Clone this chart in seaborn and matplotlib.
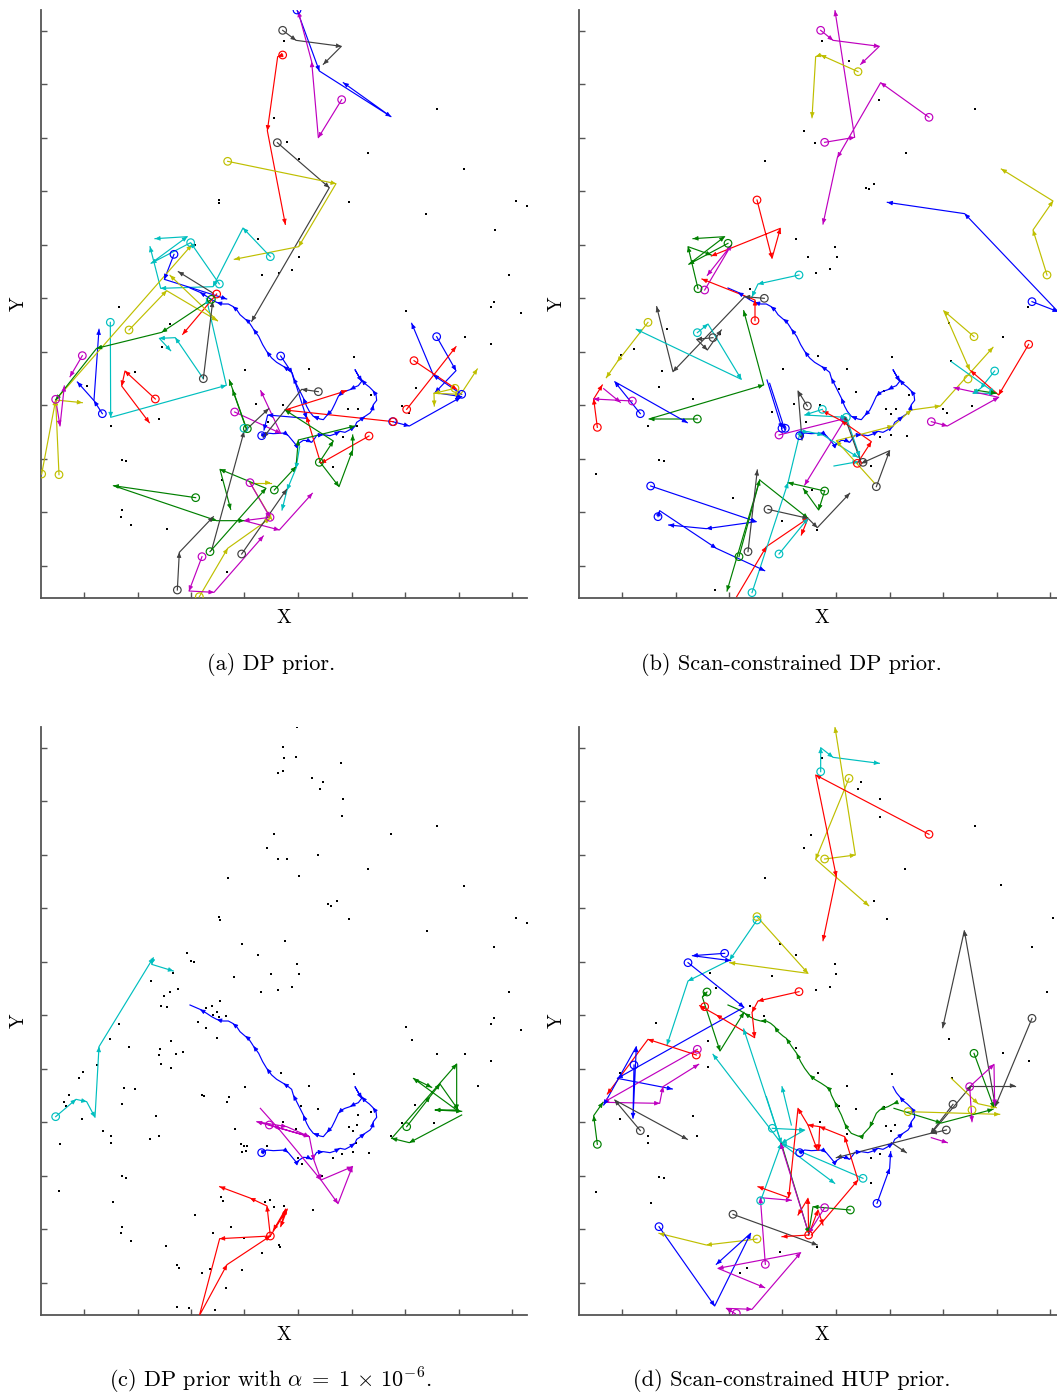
import numpy as np
import pandas as pd
import matplotlib
matplotlib.use("Agg")
import matplotlib.pyplot as plt
import seaborn as sns

# ---------------------------------------------------------------------------
# Colour keys used by the tracker output
COLORS = {
    "b": "#0000ff", "g": "#008000", "r": "#ff0000", "c": "#00bfbf",
    "m": "#bf00bf", "y": "#bfbf00", "k": "#404040",
}

# Surveillance region (local grid units, y grows southwards)
X_RANGE = (2, 1461)
Y_RANGE = (1793, 30)
X_TICKS = [133, 293, 453, 613, 774, 935, 1095, 1256, 1416]
Y_TICKS = [93, 253, 414, 574, 735, 895, 1055, 1216, 1376, 1537, 1697]

# Ground-truth target trajectory (shared by all four runs)
TRUTH_X = [665, 680, 700, 735, 745, 755, 770, 778, 790, 805, 815, 825, 830, 850, 870, 885, 900, 915,
           930, 945, 950, 965, 975, 990, 997, 1000, 1010, 1008, 998, 988, 975, 965, 955, 945,
           965, 955, 945, 930, 915, 905, 895, 885, 875, 860, 850, 840, 820, 808, 800, 790, 780,
           770, 760, 755, 745, 730, 710, 695, 680, 668, 656, 640, 635, 625, 615, 600, 590, 578,
           565, 548, 530, 515, 500, 480, 450]
TRUTH_Y = [1307, 1299, 1301, 1299, 1307, 1319, 1337, 1329, 1321, 1322, 1327, 1314, 1306, 1304, 1307,
           1302, 1294, 1297, 1289, 1279, 1267, 1257, 1249, 1239, 1229, 1214, 1201, 1184, 1171, 1161,
           1151, 1139, 1127, 1109,
           1144, 1157, 1161, 1169, 1174, 1179, 1189, 1211, 1231, 1247, 1259, 1257, 1249, 1234, 1219,
           1194, 1174, 1154, 1134, 1117, 1109, 1099, 1087, 1074, 1054, 1034, 1009, 987, 979, 964,
           957, 944, 929, 919, 912, 912, 907, 899, 889, 877, 864]
SPIKE = 34

# ---------------------------------------------------------------------------
# (a) DP prior
A_TRACKS = [
    ("b", [771, 838, 1053, 910], [30, 213, 350, 248]),
    ("k", [728, 768, 904, 850], [91, 121, 139, 193]),
    ("k", [712, 868, 635], [428, 563, 964]),
    ("m", [905, 835, 815, 775], [299, 413, 185, 35]),
    ("r", [728, 713, 682, 736], [165, 170, 392, 673]),
    ("y", [563, 888, 776, 583], [484, 551, 740, 778]),
    ("c", [691, 609, 519, 362, 330], [770, 684, 860, 865, 740]),
    ("c", [538, 452, 333, 442, 345], [852, 728, 790, 710, 716]),
    ("c", [490, 406, 358, 392], [1136, 1013, 1015, 1052]),
    ("c", [211, 212, 559, 499], [967, 1252, 1156, 895]),
    ("c", [779, 768, 741, 726], [1340, 1405, 1470, 1530]),
    ("b", [722, 757, 800, 683, 672], [1068, 1120, 1255, 1245, 1290]),
    ("b", [402, 373, 560], [763, 838, 897]),
    ("b", [1058, 1108, 1262], [1265, 1278, 1192]),
    ("b", [1190, 1248, 1185, 1265], [1010, 1112, 1178, 1190]),
    ("b", [1265, 1180, 1115], [1183, 1125, 970]),
    ("b", [187, 162, 112], [1241, 1202, 1146]),
    ("b", [162, 177], [1200, 988]),
    ("r", [346, 255, 245, 328], [1197, 1113, 1158, 1268]),
    ("r", [530, 428], [882, 1003]),
    ("r", [1100, 1248], [1228, 1040]),
    ("r", [1122, 1250], [1082, 1168]),
    ("r", [1060, 735, 920], [1265, 1230, 1172]),
    ("r", [987, 842, 800], [1308, 1390, 1250]),
    ("y", [5, 47, 455], [1422, 1200, 735]),
    ("y", [57, 47, 127], [1424, 1200, 1208]),
    ("y", [267, 380, 532], [990, 872, 962]),
    ("y", [532, 390], [962, 826]),
    ("y", [1245, 1182, 1183], [1165, 1180, 1218]),
    ("y", [1182, 1262, 1312], [1180, 1183, 1107]),
    ("y", [630, 692], [1448, 1448]),
    ("y", [630, 695], [1448, 1558]),
    ("y", [478, 563, 690], [1790, 1645, 1555]),
    ("m", [127, 90], [1067, 1130]),
    ("m", [47, 60, 73], [1198, 1278, 1158]),
    ("m", [584, 722, 662], [1236, 1300, 1172]),
    ("m", [630, 690, 612, 718, 817], [1448, 1552, 1562, 1590, 1480]),
    ("m", [486, 447, 522, 670], [1670, 1773, 1777, 1608]),
    ("g", [514, 365, 170, 47], [898, 997, 1045, 1200]),
    ("g", [620, 568], [1287, 1140]),
    ("g", [620, 578], [1290, 1170]),
    ("g", [838, 880, 735], [1387, 1323, 1230]),
    ("g", [843, 897, 938, 938], [1390, 1460, 1350, 1305]),
    ("g", [703, 768, 775, 945], [1470, 1400, 1320, 1278]),
    ("g", [467, 220, 530, 612], [1493, 1457, 1562, 1562]),
    ("g", [510, 678, 540, 572], [1655, 1465, 1408, 1528]),
    ("k", [490, 518], [1136, 905]),
    ("k", [520, 415], [880, 815]),
    ("k", [835, 785, 670], [1175, 1168, 1312]),
    ("k", [515, 612, 686], [1650, 1295, 1226]),
    ("k", [412, 418, 520], [1770, 1657, 1550]),
    ("k", [605, 740], [1662, 1468]),
]
A_RINGS = [
    ("b", 771, 30), ("b", 402, 763), ("b", 722, 1068), ("b", 1058, 1265), ("b", 1190, 1010),
    ("b", 1265, 1183), ("b", 187, 1241),
    ("k", 728, 91), ("k", 712, 428), ("k", 490, 1136), ("k", 835, 1175), ("k", 412, 1770),
    ("k", 605, 1662),
    ("m", 905, 299), ("m", 127, 1067), ("m", 47, 1198), ("m", 584, 1236), ("m", 630, 1448),
    ("m", 690, 1552), ("m", 486, 1670),
    ("r", 728, 165), ("r", 346, 1197), ("r", 530, 882), ("r", 1100, 1228), ("r", 1122, 1082),
    ("r", 1060, 1265), ("r", 987, 1308),
    ("y", 563, 484), ("y", 5, 1422), ("y", 57, 1424), ("y", 267, 990), ("y", 1245, 1165),
    ("y", 478, 1790),
    ("c", 691, 770), ("c", 538, 852), ("c", 452, 728), ("c", 211, 967), ("c", 612, 1285),
    ("g", 838, 1387), ("g", 703, 1470), ("g", 467, 1493), ("g", 510, 1655), ("g", 514, 898),
    ("g", 622, 1286),
]
A_CLUTTER_X = [731, 702, 741, 776, 985, 1190, 1271, 538, 538, 927, 1159, 1364, 1427, 1461, 655, 777,
               756, 716, 665, 1408, 465, 236, 390, 1097, 1353, 1363, 1443, 365, 1276, 1352, 942, 615,
               807, 286, 142, 993, 1127, 648, 728, 925, 953, 1087, 1106, 358, 212, 685, 908, 950,
               245, 257, 879, 545, 245, 242, 273, 380, 560]
A_CLUTTER_Y = [124, 354, 427, 478, 458, 327, 506, 601, 610, 607, 641, 690, 602, 618, 716, 771,
               809, 820, 825, 826, 735, 920, 972, 932, 920, 905, 940, 1042, 1010, 1033, 1070, 1110,
               1106, 1117, 1158, 1185, 1165, 1213, 1216, 1228, 1226, 1218, 1238, 1257, 1278, 1267,
               1311, 1278, 1380, 1383, 1400, 1440, 1530, 1550, 1575, 1586, 1715]

# ---------------------------------------------------------------------------
# (b) Scan-constrained DP prior
B_TRACKS = [
    ("m", [728, 765, 904, 848], [91, 121, 139, 193]),
    ("m", [740, 830, 771], [427, 412, 32]),
    ("m", [1053, 908, 778, 735], [352, 248, 473, 672]),
    ("y", [840, 728, 713, 702], [215, 165, 170, 353]),
    ("y", [1407, 1365, 1425, 1270], [825, 690, 603, 507]),
    ("b", [1362, 1440, 1160, 928], [905, 935, 641, 607]),
    ("r", [537, 582, 607, 400], [600, 775, 685, 768]),
    ("g", [360, 330, 400], [866, 740, 765]),
    ("g", [450, 332, 440, 345], [730, 793, 710, 716]),
    ("m", [380, 460, 388], [870, 735, 826]),
    ("c", [663, 540, 522], [825, 852, 890]),
    ("r", [531, 531, 372], [962, 900, 837]),
    ("k", [559, 500, 285, 236], [895, 890, 1115, 920]),
    ("k", [405, 356, 388, 430], [1013, 1018, 1050, 990]),
    ("c", [358, 390, 490, 175], [998, 972, 1138, 988]),
    ("y", [210, 118, 85], [967, 1085, 1133]),
    ("g", [358, 213, 557, 497], [1257, 1257, 1155, 932]),
    ("b", [187, 110, 328], [1241, 1145, 1268]),
    ("r", [58, 47, 73], [1282, 1197, 1155]),
    ("m", [163, 47], [1203, 1197]),
    ("m", [77, 127], [1166, 1207]),
    ("b", [567, 612], [1140, 1285]),
    ("b", [575, 620], [1150, 1288]),
    ("m", [603, 803, 680], [1305, 1255, 1455]),
    ("k", [688, 660, 672], [1218, 1173, 1320]),
    ("c", [733, 680, 805, 845], [1228, 1245, 1252, 1370]),
    ("c", [672, 690, 735, 840], [1295, 1295, 1305, 1372]),
    ("c", [768, 840], [1398, 1385]),
    ("r", [838, 880, 790, 735], [1390, 1325, 1262, 1233]),
    ("y", [890, 775, 945, 1000, 1087, 1245], [1450, 1322, 1278, 1230, 1218, 1042]),
    ("k", [895, 935, 850, 800], [1460, 1352, 1390, 1250]),
    ("y", [1188, 1097, 1175], [1010, 932, 1110]),
    ("c", [1250, 1208, 1185, 1250], [1113, 1165, 1180, 1180]),
    ("c", [1120, 1250], [1085, 1178]),
    ("r", [1352, 1262, 1178], [1033, 1185, 1112]),
    ("m", [1060, 1108, 1262, 1128], [1265, 1278, 1192, 1163]),
    ("g", [1190, 1255], [1170, 1180]),
    ("b", [218, 535, 385, 272], [1458, 1565, 1586, 1575]),
    ("b", [240, 245, 415, 560], [1550, 1532, 1645, 1712]),
    ("g", [740, 630], [1473, 1448]),
    ("g", [740, 722, 676], [1473, 1530, 1466]),
    ("g", [483, 545, 690], [1670, 1440, 1555]),
    ("g", [545, 447], [1440, 1773]),
    ("k", [510, 538], [1655, 1410]),
    ("k", [570, 690, 718, 815], [1528, 1555, 1583, 1480]),
    ("r", [476, 565, 690, 670], [1790, 1640, 1555, 1605]),
    ("c", [522, 630, 668], [1778, 1448, 1290]),
    ("c", [603, 690], [1662, 1555]),
]
B_RINGS = [
    ("m", 728, 91), ("m", 740, 427), ("m", 1053, 352), ("m", 380, 870), ("m", 163, 1203),
    ("m", 603, 1305), ("m", 1060, 1265),
    ("y", 840, 215), ("y", 1407, 825), ("y", 210, 967), ("y", 1188, 1010), ("y", 1170, 1137),
    ("b", 1362, 905), ("b", 187, 1241), ("b", 218, 1458), ("b", 240, 1550), ("b", 612, 1285),
    ("b", 622, 1285),
    ("r", 537, 600), ("r", 531, 962), ("r", 58, 1282), ("r", 838, 1390), ("r", 1352, 1033),
    ("g", 360, 866), ("g", 450, 730), ("g", 358, 1257), ("g", 740, 1473), ("g", 483, 1670),
    ("c", 663, 825), ("c", 358, 998), ("c", 733, 1228), ("c", 805, 1252), ("c", 1250, 1113),
    ("c", 522, 1778), ("c", 603, 1662),
    ("k", 559, 895), ("k", 405, 1013), ("k", 688, 1218), ("k", 895, 1460), ("k", 855, 1387),
    ("k", 570, 1528), ("k", 510, 1655),
]
B_CLUTTER_X = [731, 813, 904, 1190, 679, 711, 562, 985, 865, 873, 889, 654, 772, 690, 776, 714, 755,
               517, 266, 426, 128, 168, 252, 244, 346, 210, 243, 257, 55, 720, 807, 942, 1113, 1276,
               1350, 1120, 614, 783, 835, 919, 993, 648, 727, 925, 953, 940, 582, 1095, 1106, 1182,
               685, 906, 938, 986, 878, 466, 612, 702, 717, 410]
B_CLUTTER_Y = [124, 183, 299, 327, 394, 428, 484, 458, 563, 567, 552, 716, 742, 770, 770, 820, 808,
               868, 988, 1003, 1065, 1047, 1113, 1160, 1197, 1278, 1380, 1383, 1423, 1068, 1106,
               1070, 968, 1010, 920, 1083, 1108, 1168, 1175, 1172, 1185, 1213, 1216, 1228, 1226,
               1243, 1235, 1228, 1238, 1218, 1267, 1311, 1305, 1308, 1398, 1493, 1562, 1470, 1590,
               1770]

# ---------------------------------------------------------------------------
# (c) DP prior with very small concentration
C_TRACKS = [
    ("c", [47, 108, 140, 165, 177, 340, 335, 400], [1199, 1147, 1154, 1201, 989, 722, 742, 762]),
    ("m", [688, 808, 650, 740, 808, 822, 843, 937], [1224, 1259, 1214, 1229, 1259, 1330, 1389, 1349]),
    ("m", [661, 720, 843, 894, 937], [1174, 1240, 1389, 1460, 1349]),
    ("r", [691, 681, 630, 539], [1557, 1467, 1443, 1409]),
    ("r", [691, 539, 478, 561, 691, 742, 722, 737, 700],
     [1557, 1565, 1796, 1643, 1557, 1476, 1529, 1476, 1540]),
    ("g", [1100, 1170, 1200], [1229, 1139, 1101]),
    ("g", [1055, 1250, 1250, 1120, 1175], [1264, 1041, 1179, 1084, 1111]),
    ("g", [1265, 1108, 1055], [1194, 1277, 1264]),
    ("g", [1200, 1255, 1185, 1265], [1101, 1179, 1179, 1183]),
]
C_RINGS = [("c", 47, 1199), ("m", 688, 1224), ("r", 691, 1557), ("g", 1100, 1229)]
C_CLUTTER_X = [772, 728, 732, 768, 904, 714, 728, 815, 848, 841, 909, 907, 701, 1054, 1191, 681, 714,
               740, 833, 983, 777, 564,
               1272, 865, 873, 890, 537, 540, 927, 1427, 1461, 1160, 735, 607, 1363, 655, 442, 452,
               462, 772, 693, 777, 583, 332, 398, 1408, 715, 756, 664, 413, 389, 372, 540, 517, 498,
               530, 520, 537, 558, 362, 380, 475, 497, 236, 532, 1097, 1115, 1443, 1363, 1352, 210,
               267, 392, 360, 356, 407, 428, 364, 392, 170, 128, 117, 1190, 1276, 1352, 942, 722,
               807, 615, 1313, 253, 285, 487, 492, 567, 562, 87, 73, 77, 245, 784, 835, 993, 955,
               347, 127, 728, 584, 768, 927, 952, 940, 190, 213, 212, 358, 330, 60, 1087, 1125, 1183,
               1053, 604, 612, 622, 605, 617, 680, 948, 987, 938, 907, 880, 775, 785, 245, 257, 845,
               57, 220, 245, 242, 273, 466, 544, 549, 676, 691, 701, 732, 818, 573, 519, 612, 666,
               717, 720, 379, 412, 417, 486, 509, 605, 559, 410, 446, 524]
C_CLUTTER_Y = [29, 89, 122, 120, 138, 169, 162, 182, 196, 216, 245, 298, 352, 352, 326, 393, 425,
               425, 413, 456, 476, 482,
               506, 562, 566, 551, 599, 609, 606, 602, 617, 641, 672, 682, 689, 715, 707, 731,
               734, 742, 770, 770, 779, 792, 769, 825, 819, 809, 825, 815, 824, 836, 852, 867, 874,
               884, 894, 899, 896, 866, 870, 914, 932, 920, 962, 931, 969, 939, 904, 921, 967,
               989, 972, 997, 1014, 1012, 1004, 1040, 1052, 1044, 1066, 1084, 1010, 1010, 1032,
               1070, 1067, 1106, 1109, 1106, 1114, 1117, 1134, 1137, 1140, 1154, 1134, 1154, 1167,
               1160, 1167, 1176, 1184, 1193, 1196, 1207, 1215, 1235, 1237, 1229, 1224, 1242, 1241,
               1257, 1277, 1257, 1267, 1281, 1217, 1165, 1217, 1257, 1281, 1287, 1287, 1304, 1301,
               1286, 1277, 1307, 1304, 1311, 1322, 1322, 1340, 1377, 1382, 1377,
               1423, 1456, 1529, 1547, 1573, 1493, 1440, 1453, 1456, 1449, 1469, 1467, 1480, 1529,
               1547, 1563, 1607, 1583, 1589, 1587, 1643, 1653, 1669, 1656, 1660, 1712, 1769, 1773,
               1779]

# ---------------------------------------------------------------------------
# (d) Scan-constrained HUP prior
D_TRACKS = [
    ("c", [728, 728, 765, 904], [164, 92, 121, 139]),
    ("y", [740, 832, 771], [426, 414, 31]),
    ("y", [813, 713, 872], [184, 427, 566]),
    ("r", [1053, 713, 775, 735], [352, 174, 479, 671]),
    ("k", [1362, 1252, 1159, 1094], [904, 1168, 641, 932]),
    ("y", [537, 690, 455], [599, 769, 737]),
    ("c", [537, 455, 330, 267], [609, 729, 792, 984]),
    ("b", [440, 343, 458], [709, 716, 731]),
    ("b", [330, 498, 118, 283], [737, 871, 1084, 1116]),
    ("g", [387, 373, 426, 498], [825, 840, 1002, 886]),
    ("r", [663, 540, 522, 530, 415, 365], [824, 852, 886, 962, 894, 866]),
    ("r", [355, 210, 88], [1014, 967, 1131]),
    ("m", [358, 77, 245, 255, 362], [997, 1156, 1159, 1109, 1042]),
    ("b", [168, 165, 175, 77], [1044, 1204, 989, 1164]),
    ("g", [58, 47, 75], [1282, 1196, 1156]),
    ("k", [187, 110, 328], [1241, 1149, 1267]),
    ("y", [537, 385, 243], [1566, 1584, 1549]),
    ("b", [243, 410, 518, 415], [1529, 1767, 1549, 1642]),
    ("m", [562, 547, 640], [1642, 1442, 1450]),
    ("m", [472, 445, 522, 668, 420, 560], [1790, 1774, 1777, 1607, 1654, 1712]),
    ("k", [465, 718], [1492, 1584]),
    ("c", [548, 610, 405], [1451, 1279, 1012]),
    ("c", [855, 610, 497], [1384, 1279, 936]),
    ("c", [583, 680, 610, 770], [1234, 1239, 1279, 1399]),
    ("c", [640, 612], [1224, 1109]),
    ("c", [565, 610], [1139, 1279]),
    ("r", [700, 840, 800, 725, 690, 660, 632, 540], [1554, 1389, 1259, 1229, 1224, 1174, 1442, 1409]),
    ("r", [725, 722], [1229, 1299]),
    ("r", [690, 718], [1224, 1299]),
    ("r", [692, 612], [1554, 1559]),
    ("r", [692, 690, 660], [1554, 1444, 1494]),
    ("r", [692, 720, 735], [1554, 1479, 1524]),
    ("g", [817, 705, 692], [1479, 1469, 1549]),
    ("g", [610, 692], [1279, 1549]),
    ("m", [740, 692, 608], [1472, 1549, 1279]),
    ("b", [897, 935, 938], [1459, 1354, 1304]),
    ("k", [1125, 1058, 775], [1162, 1249, 1322]),
    ("k", [1105, 1060, 1180], [1239, 1249, 1106]),
    ("k", [940, 985], [1277, 1307]),
    ("y", [990, 1265], [1184, 1192]),
    ("y", [1120, 1200, 1255], [1084, 1160, 1172]),
    ("g", [948, 1090, 1245], [1174, 1218, 1177]),
    ("g", [1188, 1248], [1009, 1172]),
    ("k", [1180, 1312], [1106, 1106]),
    ("m", [1175, 1248, 1250], [1109, 1042, 1164]),
    ("m", [1175, 1182], [1109, 1214]),
    ("m", [1060, 1108], [1262, 1277]),
]
D_RINGS = [
    ("c", 728, 164), ("c", 537, 609), ("c", 548, 1451), ("c", 855, 1384), ("c", 583, 1234),
    ("y", 813, 184), ("y", 740, 426), ("y", 537, 599), ("y", 537, 1566), ("y", 990, 1184),
    ("y", 1182, 1179),
    ("r", 1053, 352), ("r", 663, 824), ("r", 380, 869), ("r", 355, 1014), ("r", 692, 1554),
    ("k", 1362, 904), ("k", 187, 1241), ("k", 465, 1492), ("k", 1125, 1162), ("k", 1105, 1239),
    ("b", 440, 709), ("b", 330, 737), ("b", 168, 1044), ("b", 243, 1529), ("b", 897, 1459),
    ("g", 387, 825), ("g", 58, 1282), ("g", 817, 1479), ("g", 1188, 1009),
    ("m", 358, 997), ("m", 562, 1642), ("m", 475, 1789), ("m", 740, 1472), ("m", 1175, 1109),
]
D_CLUTTER_X = [731, 848, 840, 906, 905, 1190, 700, 679, 982, 562, 1270, 889, 926, 1425, 1363, 606,
               654, 770, 775, 396, 582, 714, 755, 1407, 413, 516, 558, 235, 390, 1113, 1276, 1352,
               654, 807, 942, 1121, 125, 389, 720, 783, 835, 919, 345, 125, 727, 925, 950, 938, 357,
               210, 211, 807, 880, 906, 243, 257, 55, 218, 878, 718, 486, 507, 605]
D_CLUTTER_Y = [124, 194, 216, 247, 299, 326, 354, 393, 457, 484, 505, 552, 607, 602, 690, 682,
               715, 742, 770, 769, 778, 819, 809, 825, 814, 866, 896, 919, 972, 967, 1009, 1032,
               994, 1106, 1071, 1084, 1067, 1051, 1067, 1166, 1177, 1171, 1196, 1207, 1214, 1227,
               1224, 1242, 1256, 1257, 1277, 1251, 1322, 1312, 1379, 1382, 1424, 1457, 1399, 1591,
               1669, 1654, 1605]

CAPTIONS = ["(a) DP prior.", "(b) Scan-constrained DP prior.",
            r"(c) DP prior with $\alpha\;=\;1\,\times\,10^{-6}$.", "(d) Scan-constrained HUP prior."]

# ---------------------------------------------------------------------------
plt.rcParams["mathtext.fontset"] = "cm"
SERIF = ["cmr10", "DejaVu Serif"]
AXIS_GREY = "#555555"


def add_heads(ax, xs, ys, color, every=1):
    """Small filled arrowheads at segment ends, pointing along the motion."""
    for i in range(1, len(xs), every):
        x0, y0, x1, y1 = xs[i - 1], ys[i - 1], xs[i], ys[i]
        d = np.hypot(x1 - x0, y1 - y0)
        if d < 1:
            continue
        back = min(10.0, d)
        sx, sy = x1 - (x1 - x0) / d * back, y1 - (y1 - y0) / d * back
        ax.annotate("", xy=(x1, y1), xytext=(sx, sy),
                    arrowprops=dict(arrowstyle="-|>,head_length=0.45,head_width=0.2",
                                    color=color, lw=0.6, shrinkA=0, shrinkB=0,
                                    mutation_scale=6.5), zorder=4)


def draw_panel(ax, tracks, rings, cx, cy, truth_parts):
    sns.scatterplot(x=cx, y=cy, color="black", s=3, marker="s", linewidth=0, ax=ax, zorder=2)

    rows, palette = [], {}
    all_tracks = list(truth_parts) + list(tracks)
    for i, (ck, xs, ys) in enumerate(all_tracks):
        tid = f"t{i:03d}"
        palette[tid] = COLORS[ck]
        for x, y in zip(xs, ys):
            rows.append((tid, x, y))
    df = pd.DataFrame(rows, columns=["track", "x", "y"])
    sns.lineplot(data=df, x="x", y="y", hue="track", units="track", palette=palette,
                 estimator=None, sort=False, legend=False, linewidth=0.85, ax=ax, zorder=3)

    for j, (ck, xs, ys) in enumerate(all_tracks):
        add_heads(ax, xs, ys, COLORS[ck], every=3 if j < len(truth_parts) else 1)

    rk = [r[0] for r in rings]
    sns.scatterplot(x=[r[1] for r in rings], y=[r[2] for r in rings], hue=rk,
                    palette=COLORS, s=30, marker="o", linewidth=0.85, legend=False,
                    ax=ax, zorder=5)
    ring_coll = ax.collections[-1]
    ring_coll.set_edgecolors(ring_coll.get_facecolors())
    ring_coll.set_facecolors("none")

    ax.set_xlim(*X_RANGE)
    ax.set_ylim(*Y_RANGE)
    ax.set_xticks(X_TICKS)
    ax.set_yticks(Y_TICKS)
    ax.tick_params(direction="in", length=4, width=1.0, color=AXIS_GREY,
                   labelbottom=False, labelleft=False)
    for side in ("top", "right"):
        ax.spines[side].set_visible(False)
    for side in ("left", "bottom"):
        ax.spines[side].set_color(AXIS_GREY)
        ax.spines[side].set_linewidth(1.3)
    ax.set_xlabel("X", family=SERIF, fontsize=14, labelpad=8)
    ax.set_ylabel("Y", family=SERIF, fontsize=14, labelpad=9)
    ax.set_facecolor("white")


fig = plt.figure(figsize=(10.57, 13.97), dpi=100)
W, H = 1057.0, 1397.0
panel_w = (X_RANGE[1] - X_RANGE[0]) / 3.0
panel_h = (Y_RANGE[0] - Y_RANGE[1]) / 3.0
origins = [(40, 0), (578, 0), (40, 717), (578, 717)]
caption_centres = [(271, 665), (791, 665), (270, 1381), (792, 1381)]

blue_truth = [("b", TRUTH_X, TRUTH_Y)]
d_truth = [("b", TRUTH_X[:SPIKE], TRUTH_Y[:SPIKE]), ("g", TRUTH_X[SPIKE + 1:], TRUTH_Y[SPIKE + 1:])]
panels = [
    (A_TRACKS, A_RINGS + [("b", TRUTH_X[0], TRUTH_Y[0])], A_CLUTTER_X, A_CLUTTER_Y, blue_truth),
    (B_TRACKS, B_RINGS + [("b", TRUTH_X[0], TRUTH_Y[0])], B_CLUTTER_X, B_CLUTTER_Y, blue_truth),
    (C_TRACKS, C_RINGS + [("b", TRUTH_X[0], TRUTH_Y[0])], C_CLUTTER_X, C_CLUTTER_Y, blue_truth),
    (D_TRACKS, D_RINGS + [("b", TRUTH_X[0], TRUTH_Y[0])], D_CLUTTER_X, D_CLUTTER_Y, d_truth),
]

for (ox, oy), (tr, rg, cx, cy, tp), cap, (cpx, cpy) in zip(origins, panels, CAPTIONS,
                                                           caption_centres):
    left = (ox + X_RANGE[0] / 3.0) / W
    top = oy + Y_RANGE[1] / 3.0
    bottom = 1 - (top + panel_h) / H
    ax = fig.add_axes([left, bottom, panel_w / W, panel_h / H])
    draw_panel(ax, tr, rg, cx, cy, tp)
    fig.text(cpx / W, 1 - cpy / H, cap, ha="center", va="center", family=SERIF, fontsize=16)

fig.savefig("out.png", dpi=100, facecolor="white")
